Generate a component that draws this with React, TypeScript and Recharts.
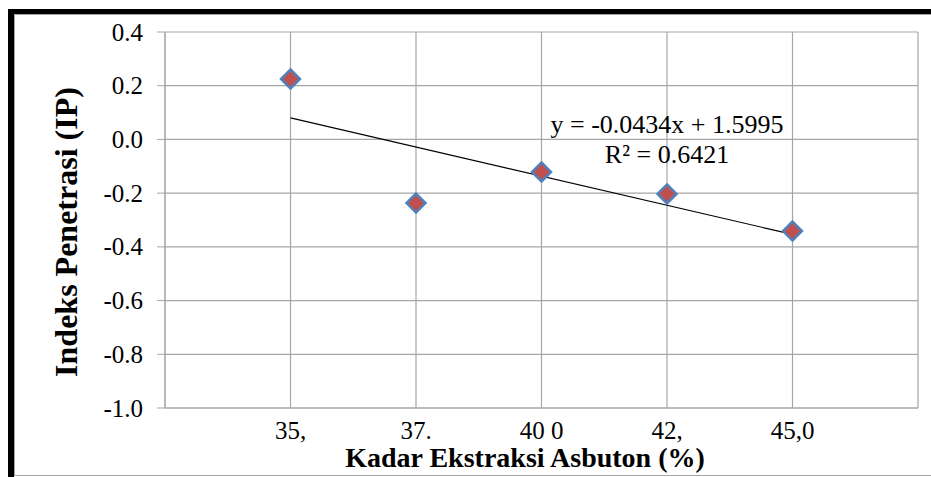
import { ScatterChart, Scatter, XAxis, YAxis, CartesianGrid, Label } from 'recharts';

// kadar ekstraksi asbuton (%) vs indeks penetrasi
const xValues = [35, 37.5, 40, 42.5, 45];
const ipValues = [0.225, -0.237, -0.121, -0.203, -0.341];
const xTickLabels = ['35,', '37.', '40 0', '42,', '45,0'];
const xGridTicks = [32.5, 35, 37.5, 40, 42.5, 45, 47.5];
const yTicks = [-1.0, -0.8, -0.6, -0.4, -0.2, 0.0, 0.2, 0.4];

// linear trendline from the chart
const trendSlope = -0.0434;
const trendIntercept = 1.5995;
const equationLines = ['y = -0.0434x + 1.5995', 'R² = 0.6421'];

const data = xValues.map((x, i) => ({ x, y: ipValues[i] }));
const trendData = [xValues[0], xValues[xValues.length - 1]].map((x) => ({
  x,
  y: trendSlope * x + trendIntercept,
}));

const FONT = 'Liberation Serif, Times New Roman, serif';
const GRID = '#a6a6a6';
const serif = { fontFamily: FONT };

const Diamond = (props: any) => {
  const { cx, cy } = props;
  const r = 9.5;
  return (
    <polygon
      points={`${cx},${cy - r} ${cx + r},${cy} ${cx},${cy + r} ${cx - r},${cy}`}
      fill="#c0504d"
      stroke="#4f81bd"
      strokeWidth={2.5}
    />
  );
};

const XTick = (props: any) => {
  const { x, y, payload } = props;
  const idx = xValues.indexOf(payload.value);
  if (idx < 0) return <g />;
  return (
    <text x={x} y={y} dy={17} textAnchor="middle" style={serif} fontSize={25} fill="#000">
      {xTickLabels[idx]}
    </text>
  );
};

const YTick = (props: any) => {
  const { x, y, payload } = props;
  return (
    <text x={x} y={y} dy={8.5} textAnchor="end" style={serif} fontSize={25} fill="#000">
      {payload.value.toFixed(1)}
    </text>
  );
};

const YTitle = () => (
  <text
    x={77}
    y={232}
    transform="rotate(-90 77 232)"
    textAnchor="middle"
    style={serif}
    fontWeight="bold"
    fontSize={32}
    fill="#000"
  >
    Indeks Penetrasi (IP)
  </text>
);

const XTitle = () => (
  <text x={525} y={467} textAnchor="middle" style={serif} fontWeight="bold" fontSize={28} fill="#000">
    Kadar Ekstraksi Asbuton (%)
  </text>
);

export default function App() {
  return (
    <div style={{ position: 'absolute', left: 0, top: 0, width: 931, height: 477, background: '#fff', overflow: 'hidden' }}>
      <div
        style={{
          position: 'absolute',
          left: 8,
          top: 9,
          width: 923,
          height: 463,
          borderLeft: '6px solid #000',
          borderTop: '5px solid #000',
        }}
      />
      <div
        style={{
          position: 'absolute',
          left: 14,
          top: 14,
          width: 930,
          height: 460,
          borderLeft: '1px solid ' + GRID,
          borderTop: '1px solid ' + GRID,
          borderBottom: '1px solid ' + GRID,
        }}
      />
      <div style={{ position: 'absolute', left: 0, top: 0 }}>
        <ScatterChart width={931} height={477} margin={{ top: 32, right: 13, bottom: 0, left: 0 }}>
          <CartesianGrid stroke={GRID} strokeWidth={1.2} />
          <XAxis
            type="number"
            dataKey="x"
            domain={[32.5, 47.5]}
            ticks={xGridTicks}
            height={69}
            tickLine={false}
            tickSize={0}
            tickMargin={14}
            axisLine={{ stroke: GRID }}
            tick={<XTick />}
            interval={0}
          >
            <Label content={<XTitle />} />
          </XAxis>
          <YAxis
            type="number"
            dataKey="y"
            domain={[-1, 0.4]}
            ticks={yTicks}
            width={165}
            tickSize={8}
            tickMargin={14}
            tickLine={{ stroke: GRID }}
            axisLine={{ stroke: GRID }}
            tick={<YTick />}
            interval={0}
          >
            <Label content={<YTitle />} />
          </YAxis>
          <Scatter
            data={trendData}
            line={{ stroke: '#000', strokeWidth: 1.2 }}
            shape={() => <g />}
            isAnimationActive={false}
          />
          <Scatter data={data} shape={<Diamond />} isAnimationActive={false} />
        </ScatterChart>
      </div>
      <svg width={931} height={477} style={{ position: 'absolute', left: 0, top: 0, pointerEvents: 'none' }}>
        {equationLines.map((t, i) => (
          <text key={t} x={667} y={133 + i * 30} textAnchor="middle" style={serif} fontSize={26} fill="#000">
            {t}
          </text>
        ))}
      </svg>
    </div>
  );
}
